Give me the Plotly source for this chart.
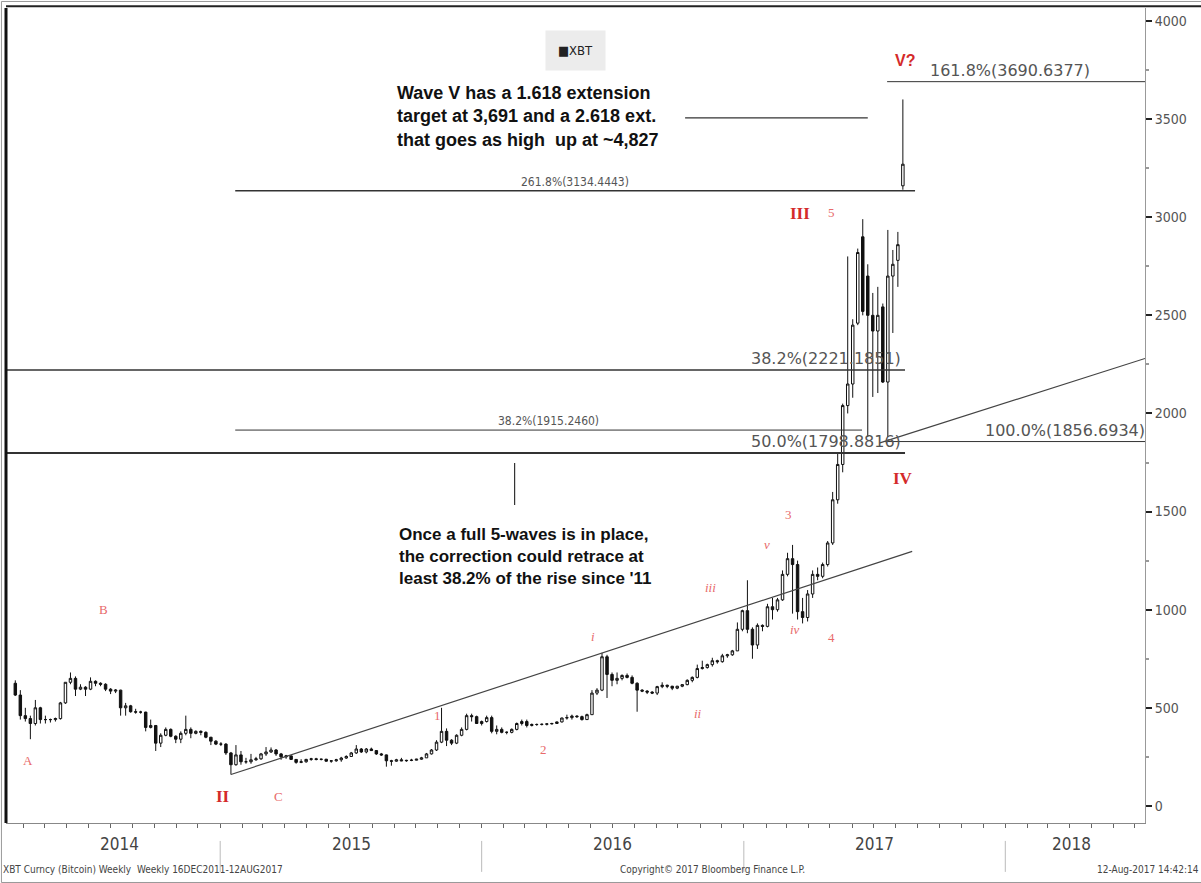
import plotly.graph_objects as go
import pandas as pd

# weekly XBT bars, week ending Friday, first bar 21-Mar-2014
first_week = "2014-03-21"

open_px = [
    # 2014
    625, 565, 460, 445, 420, 500, 440, 440, 440, 445, 525, 630, 650, 595, 605, 595, 635, 625, 620, 595, 585,
    590, 500, 510, 480, 478, 478, 400, 410, 320, 360, 390, 355, 340, 370, 390, 370, 380, 375, 350, 330, 315,
    # 2015
    315, 270, 210, 260, 225, 225, 235, 240, 265, 275, 285, 265, 250, 255, 237, 222, 225, 237, 240, 237, 238, 228,
    230, 235, 244, 252, 270, 290, 275, 290, 282, 265, 260, 230, 228, 235, 230, 232, 233, 238, 245, 265, 285, 325,
    380, 335, 320, 360, 390, 460, 455, 420,
    # 2016
    430, 450, 380, 390, 375, 375, 390, 420, 430, 410, 415, 415, 416, 418, 420, 428, 448, 450, 458, 455, 440, 465,
    575, 590, 760, 670, 640, 650, 665, 655, 625, 590, 585, 580, 575, 608, 615, 610, 600, 610, 618, 640, 655, 700,
    705, 720, 740, 735, 765, 770, 790, 900,
    # 2017
    995, 900, 820, 920, 915, 1015, 1000, 1050, 1180, 1260, 1230, 990, 960, 1080, 1180, 1170, 1230, 1340, 1560,
    1740, 2040, 2150, 2460, 2900, 2700, 2500, 2420, 2543, 2160, 2700, 2780, 3160,
]
high_px = [
    # 2014
    640, 590, 500, 460, 540, 505, 460, 445, 450, 530, 630, 680, 660, 620, 610, 655, 640, 630, 625, 600, 595,
    592, 525, 515, 495, 485, 480, 440, 410, 370, 400, 395, 360, 380, 460, 400, 385, 385, 380, 352, 335, 325,
    # 2015
    320, 275, 310, 280, 245, 265, 250, 270, 300, 298, 290, 270, 260, 258, 238, 238, 240, 245, 245, 241, 240, 232,
    240, 250, 258, 275, 310, 295, 295, 297, 285, 270, 262, 235, 240, 245, 235, 240, 240, 250, 270, 290, 335, 500,
    395, 340, 365, 400, 470, 470, 460, 435,
    # 2016
    460, 460, 410, 400, 380, 395, 425, 440, 440, 420, 420, 420, 420, 424, 430, 450, 465, 465, 462, 460, 470, 590,
    600, 780, 770, 680, 680, 670, 675, 665, 630, 595, 590, 585, 612, 630, 618, 612, 612, 620, 645, 660, 720, 740,
    725, 755, 745, 775, 775, 795, 935, 1000,
    # 2017
    1150, 910, 930, 925, 1030, 1060, 1060, 1200, 1290, 1330, 1250, 1060, 1100, 1200, 1215, 1240, 1350, 1600, 1800,
    2050, 2800, 2480, 2840, 2990, 2760, 2614, 2645, 2560, 2935, 2833, 2925, 3600,
]
low_px = [
    # 2014
    560, 440, 430, 340, 410, 420, 420, 425, 430, 440, 520, 620, 560, 590, 560, 590, 610, 610, 585, 570, 575,
    460, 460, 475, 470, 470, 380, 395, 280, 300, 355, 350, 320, 320, 360, 345, 365, 360, 345, 310, 310, 305,
    # 2015
    260, 160, 205, 210, 215, 215, 230, 235, 255, 270, 255, 235, 240, 235, 215, 218, 220, 230, 232, 232, 225, 220,
    225, 225, 240, 250, 265, 270, 268, 280, 260, 255, 200, 205, 225, 228, 225, 228, 232, 235, 245, 262, 280, 320,
    305, 310, 315, 355, 385, 430, 420, 410,
    # 2016
    425, 370, 365, 370, 365, 370, 385, 410, 400, 405, 408, 410, 410, 415, 418, 425, 440, 440, 448, 435, 438, 465,
    565, 585, 550, 610, 620, 640, 650, 620, 480, 580, 570, 570, 565, 600, 600, 590, 595, 605, 615, 630, 650, 695,
    700, 710, 725, 730, 755, 765, 790, 890,
    # 2017
    880, 750, 800, 890, 910, 950, 990, 1045, 1170, 980, 950, 930, 940, 1060, 1150, 1160, 1220, 1330, 1540,
    1700, 2000, 2080, 2450, 2500, 1880, 2084, 2104, 2155, 1880, 2410, 2645, 3140,
]
close_px = [
    # 2014
    565, 460, 445, 420, 500, 440, 440, 440, 445, 525, 630, 650, 595, 605, 595, 635, 625, 620, 595, 585, 590,
    500, 510, 480, 478, 478, 400, 410, 320, 360, 390, 355, 340, 370, 390, 370, 380, 375, 350, 330, 315, 315,
    # 2015
    270, 210, 260, 225, 225, 235, 240, 265, 275, 285, 265, 250, 255, 237, 222, 225, 237, 240, 237, 238, 228, 230,
    235, 244, 252, 270, 290, 275, 290, 282, 265, 260, 230, 228, 235, 230, 232, 233, 238, 245, 265, 285, 325, 380,
    335, 320, 360, 390, 460, 455, 420, 430,
    # 2016
    450, 380, 390, 375, 375, 390, 420, 430, 410, 415, 415, 416, 418, 420, 428, 448, 450, 458, 455, 440, 465, 575,
    590, 760, 670, 640, 650, 665, 655, 625, 590, 585, 580, 575, 608, 615, 610, 600, 610, 618, 640, 655, 700, 705,
    720, 740, 735, 765, 770, 790, 900, 995,
    # 2017
    900, 820, 920, 915, 1015, 1000, 1050, 1180, 1260, 1230, 990, 960, 1080, 1180, 1170, 1230, 1340, 1560, 1740,
    2040, 2150, 2450, 2820, 2520, 2500, 2420, 2500, 2160, 2700, 2760, 2860, 3270,
]

# Fibonacci levels drawn on the chart
fib_values = [3690.6377, 3134.4443, 2221.1851, 1915.2460, 1798.8816, 1856.6934]
fib_labels = ["161.8%", "261.8%", "38.2%", "38.2%", "50.0%", "100.0%"]

# trend channel anchors (date, price)
trend_low = [("2015-01-16", 160), ("2017-08-24", 1297)]
trend_high = [("2017-07-10", 1850), ("2018-07-15", 2280)]

years = ["2014", "2015", "2016", "2017", "2018"]
year_label_dates = ["2014-08-14", "2015-07-03", "2016-07-01", "2017-07-03", "2018-04-03"]
year_starts = ["2015-01-01", "2016-01-01", "2017-01-01", "2018-01-01"]

dates = pd.date_range(first_week, periods=len(close_px), freq="W-FRI")

fig = go.Figure(go.Candlestick(
    x=dates, open=open_px, high=high_px, low=low_px, close=close_px,
    increasing=dict(line=dict(color="#111", width=1), fillcolor="white"),
    decreasing=dict(line=dict(color="#111", width=1), fillcolor="#111"),
    whiskerwidth=0, showlegend=False, hoverinfo="skip",
))

FIB_BIG = dict(family="DejaVu Sans", size=16, color="#555")
FIB_SMALL = dict(family="DejaVu Sans Condensed", size=12, color="#555")

# (x0, x1, label x, font, line width); None -> plot edge
fib_layout = [
    ("2017-07-20", None, "2018-01-08", FIB_BIG, 1),
    ("2015-01-22", "2017-08-28", "2016-05-10", FIB_SMALL, 1.5),
    (None, "2017-08-14", "2017-04-26", FIB_BIG, 1.5),
    ("2015-01-22", "2017-06-15", "2016-04-03", FIB_SMALL, 1),
    (None, "2017-08-14", "2017-04-26", FIB_BIG, 2),
    ("2017-07-17", None, "2018-03-25", FIB_BIG, 1),
]

x_range = ["2014-03-08", "2018-07-15"]
shapes = []
annotations = []
for val, lab, (x0, x1, lx, font, lw) in zip(fib_values, fib_labels, fib_layout):
    shapes.append(dict(type="line", xref="x", yref="y",
                       x0=x0 or x_range[0], x1=x1 or x_range[1], y0=val, y1=val,
                       line=dict(color="#333", width=lw)))
    annotations.append(dict(x=lx, y=val, xref="x", yref="y", text=f"{lab}({val:.4f})",
                            showarrow=False, yanchor="bottom", font=font))

for (a, b) in (trend_low, trend_high):
    shapes.append(dict(type="line", xref="x", yref="y", x0=a[0], y0=a[1], x1=b[0], y1=b[1],
                       line=dict(color="#444", width=1.2)))

# connector lines for the comment boxes
shapes.append(dict(type="line", xref="x", yref="y", x0="2016-10-11", x1="2017-06-23",
                   y0=3506, y1=3506, line=dict(color="#333", width=1.2)))
shapes.append(dict(type="line", xref="x", yref="y", x0="2016-02-16", x1="2016-02-16",
                   y0=1534, y1=1748, line=dict(color="#333", width=1.2)))

# year separators under the axis
for d in year_starts:
    shapes.append(dict(type="line", xref="x", yref="paper", x0=d, x1=d, y0=-0.022, y1=-0.06,
                       line=dict(color="#bbb", width=1)))

# plot frame: heavy left/top, whole-image border
shapes += [
    dict(type="line", xref="paper", yref="paper", x0=0, x1=0, y0=0, y1=1, line=dict(color="#111", width=3)),
    dict(type="line", xref="paper", yref="paper", x0=0, x1=1.05, y0=1.002, y1=1.002, line=dict(color="#222", width=2)),
    dict(type="rect", xref="paper", yref="paper", x0=-0.004, x1=1.051, y0=-0.073, y1=1.008,
         line=dict(color="#999", width=1)),
]

RED_BOLD = dict(family="Liberation Serif", size=17, color="#d42a2a")
RED_SMALL = dict(family="Liberation Serif", size=13, color="#e86a6a")
wave_labels = [
    ("A", "2014-04-08", 234, RED_SMALL), ("B", "2014-07-22", 999, RED_SMALL),
    ("<b>II</b>", "2015-01-05", 46, RED_BOLD), ("C", "2015-03-23", 46, RED_SMALL),
    ("1", "2015-11-01", 459, RED_SMALL), ("2", "2016-03-27", 290, RED_SMALL),
    ("<i>i</i>", "2016-06-05", 861, RED_SMALL), ("<i>ii</i>", "2016-10-29", 469, RED_SMALL),
    ("<i>iii</i>", "2016-11-15", 1111, RED_SMALL), ("<i>iv</i>", "2017-03-13", 897, RED_SMALL),
    ("<i>v</i>", "2017-02-02", 1330, RED_SMALL), ("3", "2017-03-04", 1483, RED_SMALL),
    ("4", "2017-05-04", 856, RED_SMALL), ("<b>III</b>", "2017-03-21", 3017, RED_BOLD),
    ("5", "2017-05-03", 3022, RED_SMALL), ("<b>IV</b>", "2017-08-11", 1671, RED_BOLD),
    ("<b>V?</b>", "2017-08-14", 3801, dict(family="Liberation Sans", size=16, color="#d42a2a")),
]
for txt, d, p, f in wave_labels:
    annotations.append(dict(x=d, y=p, xref="x", yref="y", text=txt, showarrow=False, font=f))

annotations.append(dict(
    x="2015-09-02", y=3511, xref="x", yref="y", xanchor="left", align="left", showarrow=False,
    text="<b>Wave V has a 1.618 extension<br>target at 3,691 and a 2.618 ext.<br>that goes as high  up at ~4,827</b>",
    font=dict(family="Liberation Sans", size=18, color="#111")))
annotations.append(dict(
    x="2015-09-05", y=1269, xref="x", yref="y", xanchor="left", align="left", showarrow=False,
    text="<b>Once a full 5-waves is in place,<br>the correction could retrace at<br>least 38.2% of the rise since '11</b>",
    font=dict(family="Liberation Sans", size=17, color="#111")))

# legend tag
annotations.append(dict(x=0.5, y=0.973, xref="paper", yref="paper", text="■XBT", showarrow=False,
                        bgcolor="#ececec", borderpad=12, font=dict(family="DejaVu Sans Condensed", size=13, color="#222")))

for y, d in zip(years, year_label_dates):
    annotations.append(dict(x=d, y=-0.04, xref="x", yref="paper", text=y, showarrow=False,
                            font=dict(family="DejaVu Sans Condensed", size=17, color="#444")))

FOOT = dict(family="DejaVu Sans Condensed", size=10, color="#444")
annotations += [
    dict(x=-0.004, y=-0.066, xref="paper", yref="paper", xanchor="left", showarrow=False, font=FOOT,
         text="XBT Curncy (Bitcoin) Weekly  Weekly 16DEC2011-12AUG2017"),
    dict(x=0.62, y=-0.066, xref="paper", yref="paper", showarrow=False, font=FOOT,
         text="Copyright© 2017 Bloomberg Finance L.P."),
    dict(x=1.049, y=-0.066, xref="paper", yref="paper", xanchor="right", showarrow=False, font=FOOT,
         text="12-Aug-2017 14:42:14"),
]

fig.update_layout(
    width=1201, height=883,
    margin=dict(l=6, r=56, t=8, b=60),
    paper_bgcolor="white", plot_bgcolor="white",
    shapes=shapes, annotations=annotations,
    xaxis=dict(range=x_range, rangeslider=dict(visible=False), showgrid=False, zeroline=False,
               showline=True, linecolor="#888", ticks="outside", ticklen=4, tickcolor="#666",
               dtick="M1", tick0="2014-01-01", showticklabels=False),
    yaxis=dict(range=[-87, 4066], side="right", showgrid=False, zeroline=False,
               showline=True, linecolor="#999", ticks="outside", ticklen=6, tickwidth=2, tickcolor="#222",
               dtick=500, tick0=0, tickfont=dict(family="DejaVu Sans Condensed", size=14, color="#555"),
               minor=dict(dtick=250, ticks="outside", ticklen=3, tickcolor="#999")),
)

fig.write_html("out.html", config={"displayModeBar": False},
               post_script="document.body.style.margin='0';")
